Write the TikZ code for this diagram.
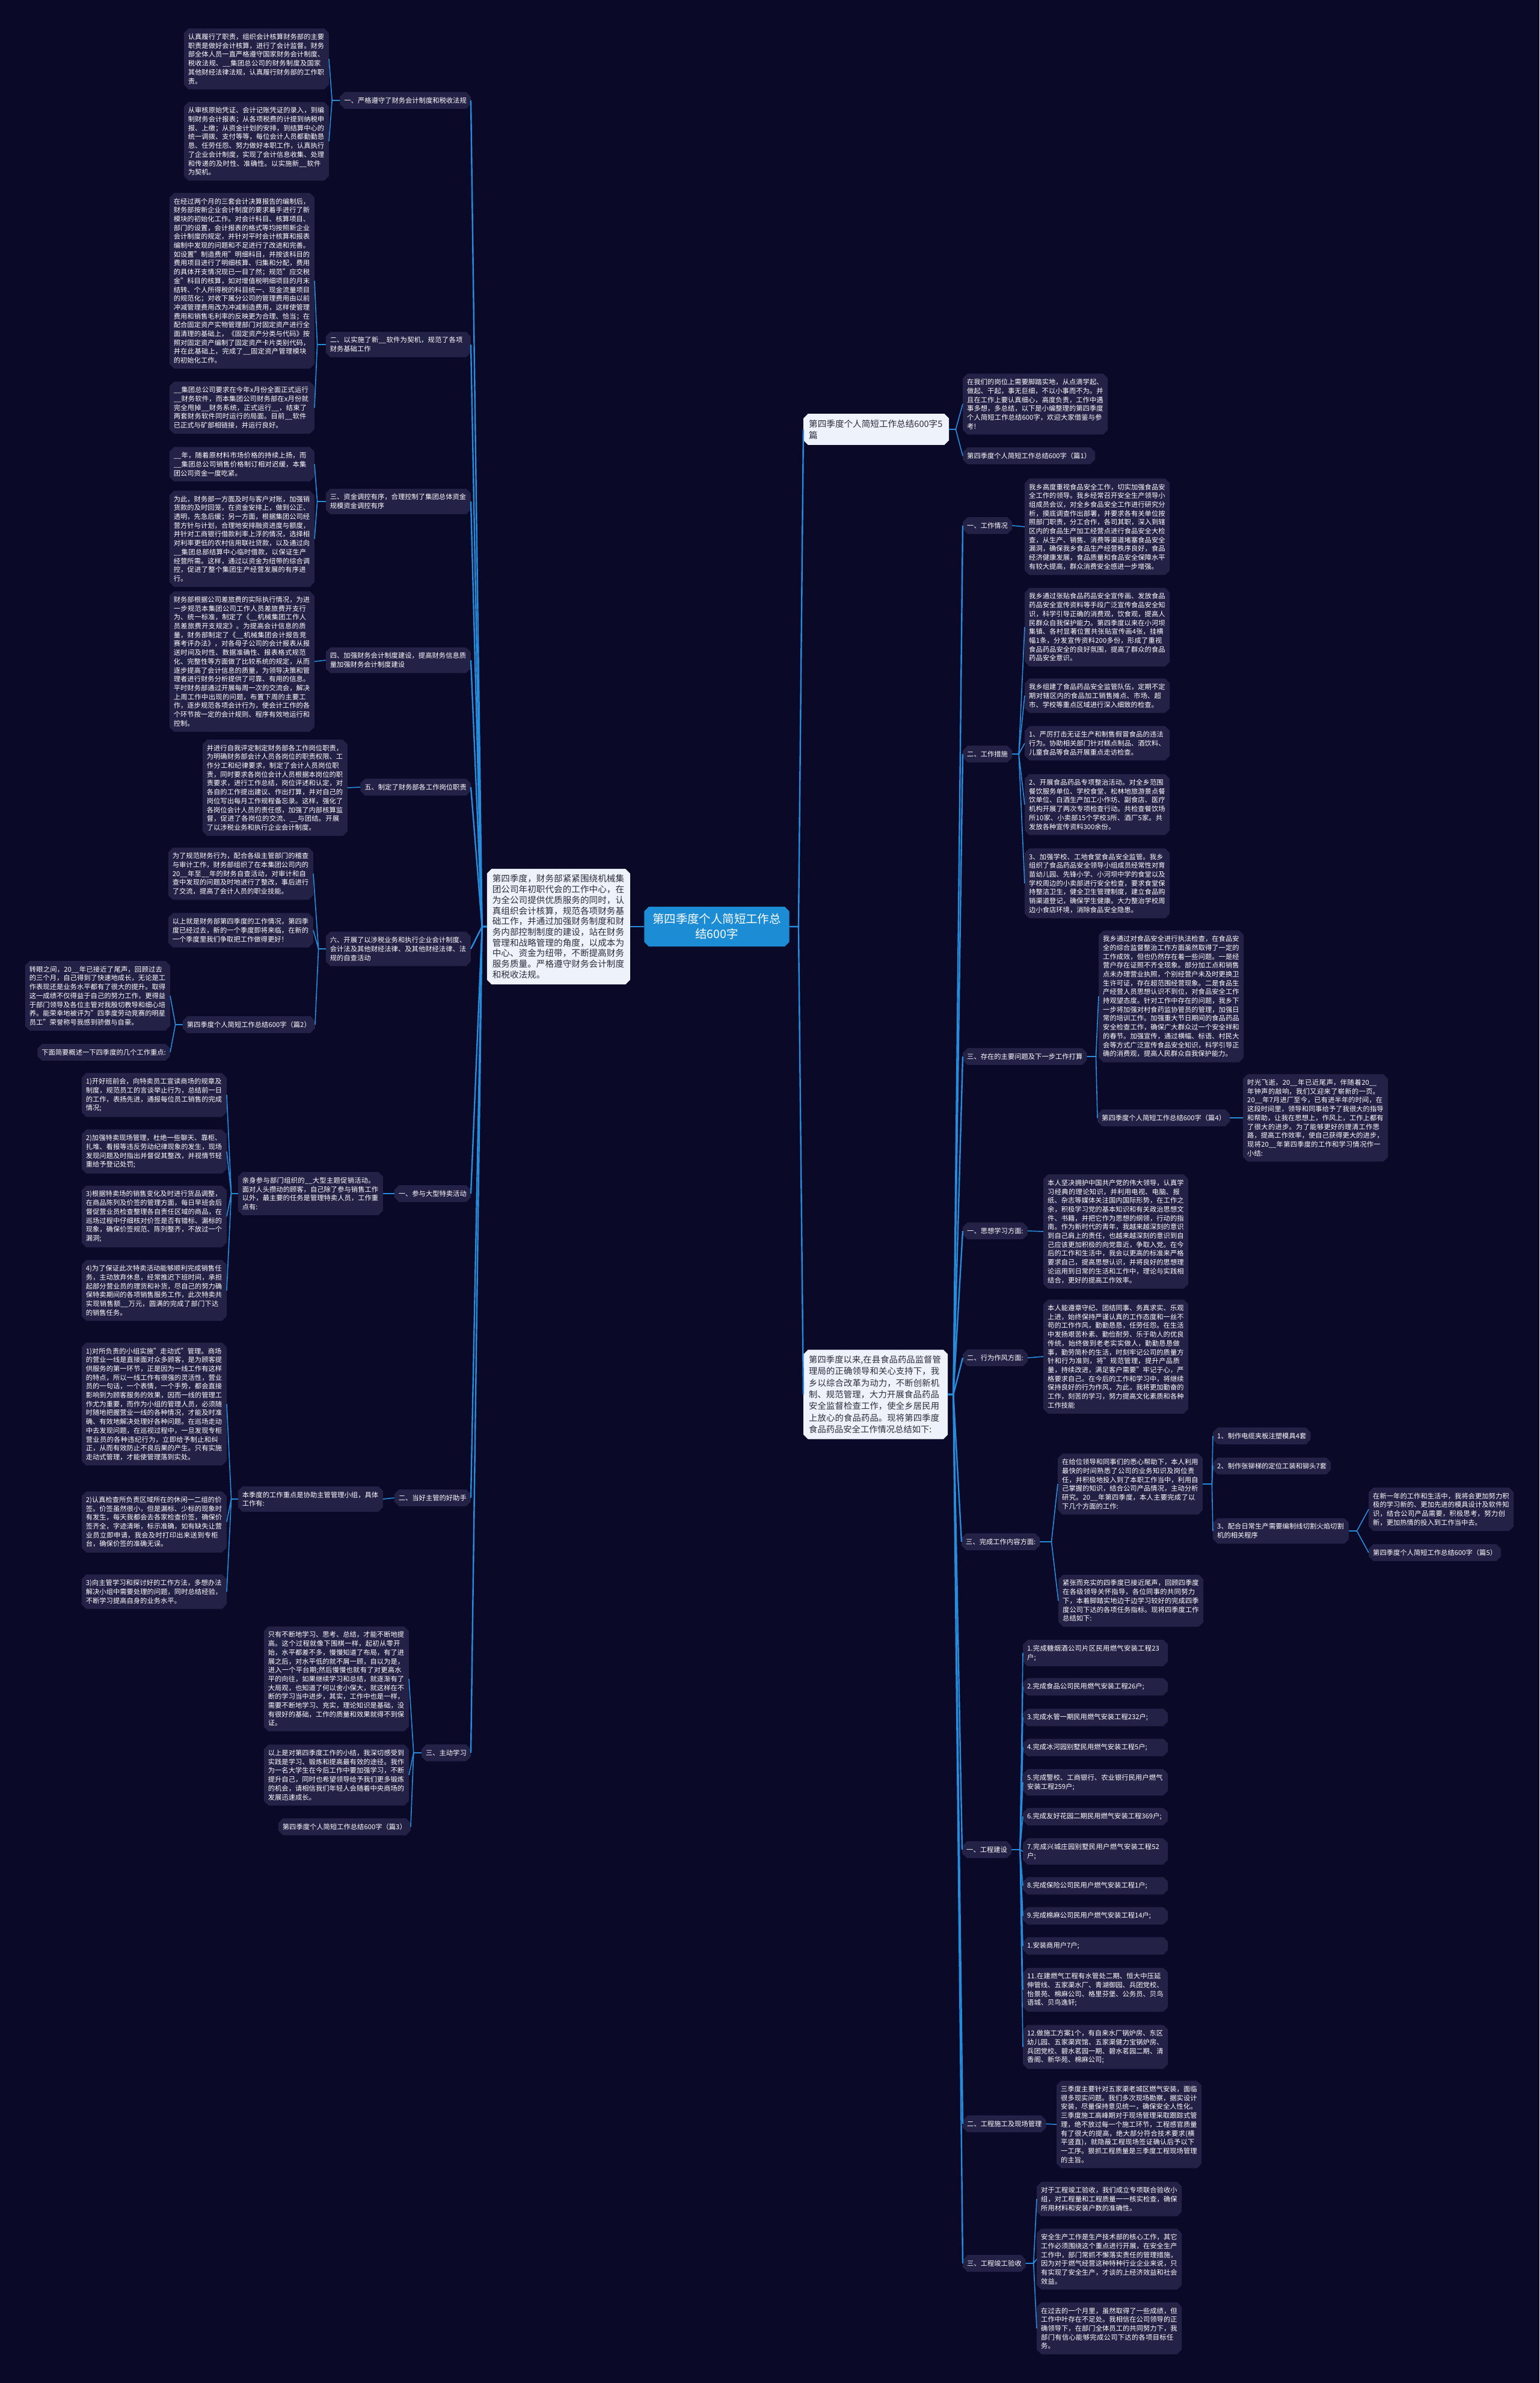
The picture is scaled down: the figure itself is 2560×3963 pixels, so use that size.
\documentclass[tikz,border=0pt]{standalone}
\usepackage{fontspec}
\setmainfont{Noto Sans CJK SC}
\XeTeXlinebreaklocale "zh"
\XeTeXlinebreakskip=0pt plus 1pt
\usetikzlibrary{shapes.misc}

\definecolor{bgcol}{RGB}{11,9,40}
\definecolor{leafcol}{RGB}{35,33,70}
\definecolor{linkcol}{RGB}{38,140,220}
\definecolor{rootcol}{RGB}{28,141,212}
\definecolor{paper}{RGB}{238,242,251}
\definecolor{ink}{RGB}{45,45,60}

\tikzset{
  box/.style={chamfered rectangle, chamfered rectangle xsep=4pt, fill=leafcol, text=white,
    inner xsep=3pt, inner ysep=5pt, font=\fontsize{11.3}{14.7}\selectfont, align=left},
  leaf/.style={box, text width=227pt},
  tag/.style={box},
  card/.style={chamfered rectangle, chamfered rectangle xsep=4pt, fill=paper, text=ink,
    inner xsep=5pt, inner ysep=6pt, align=left},
  link/.style={draw=linkcol, line width=1.6pt},
  trunk/.style={draw=linkcol, line width=2.4pt},
}

\begin{document}
\begin{tikzpicture}[x=1pt,y=-1pt]
  \fill[bgcol] (0,0) rectangle (2560,3963);

  % centre
  \node[card, anchor=east, text width=220pt, font=\fontsize{14.6}{17.7}\selectfont] (main) at (1048,1541)
    {第四季度，财务部紧紧围绕机械集团公司年初职代会的工作中心，在为全公司提供优质服务的同时，认真组织会计核算，规范各项财务基础工作，并通过加强财务制度和财务内部控制制度的建设，站在财务管理和战略管理的角度，以成本为中心、资金为纽带，不断提高财务服务质量。严格遵守财务会计制度和税收法规。};
  \node[card, fill=rootcol, text=white, align=center, inner xsep=10pt, inner ysep=8pt,
    font=\fontsize{19.4}{25}\selectfont] (root) at (1192,1541) {第四季度个人简短工作总\\结600字};

  % left wing
  \node[leaf, anchor=east] (l1) at (547,98) {认真履行了职责，组织会计核算财务部的主要职责是做好会计核算，进行了会计监督。财务部全体人员一直严格遵守国家财务会计制度、税收法规、\_\_集团总公司的财务制度及国家其他财经法律法规，认真履行财务部的工作职责。};
  \node[leaf, anchor=east] (l2) at (547,235) {从审核原始凭证、会计记账凭证的录入，到编制财务会计报表；从各项税费的计提到纳税申报、上缴；从资金计划的安排，到结算中心的统一调拨、支付等等，每位会计人员都勤勤恳恳、任劳任怨、努力做好本职工作，认真执行了企业会计制度，实现了会计信息收集、处理和传递的及时性、准确性。以实施新\_\_软件为契机。};
  \node[tag, anchor=east] (b1) at (783,167) {一、严格遵守了财务会计制度和税收法规};

  \node[leaf, anchor=east] (l3) at (523,467) {在经过两个月的三套会计决算报告的编制后，财务部按新企业会计制度的要求着手进行了新模块的初始化工作。对会计科目、核算项目、部门的设置，会计报表的格式等均按照新企业会计制度的规定，并针对平时会计核算和报表编制中发现的问题和不足进行了改进和完善。如设置"制造费用"明细科目，并按该科目的费用项目进行了明细核算、归集和分配，费用的具体开支情况现已一目了然；规范"应交税金"科目的核算，如对增值税明细项目的月末结转、个人所得税的科目统一、现金流量项目的规范化；对收下属分公司的管理费用由以前冲减管理费用改为冲减制造费用，这样使管理费用和销售毛利率的反映更为合理、恰当；在配合固定资产实物管理部门对固定资产进行全面清理的基础上，《固定资产分类与代码》按照对固定资产编制了固定资产卡片类别代码，并在此基础上，完成了\_\_固定资产管理模块的初始化工作。};
  \node[leaf, anchor=east] (l4) at (523,678) {\_\_集团总公司要求在今年x月份全面正式运行\_\_财务软件，而本集团公司财务部在x月份就完全甩掉\_\_财务系统，正式运行\_\_，结束了两套财务软件同时运行的局面。目前\_\_软件已正式与矿部相链接，并运行良好。};
  \node[leaf, anchor=east] (b2) at (783,573) {二、以实施了新\_\_软件为契机，规范了各项财务基础工作};

  \node[leaf, anchor=east] (l5) at (523,772) {\_\_年，随着原材料市场价格的持续上扬，而\_\_集团总公司销售价格制订相对迟缓，本集团公司资金一度吃紧。};
  \node[leaf, anchor=east] (l6) at (523,896) {为此，财务部一方面及时与客户对账，加强销货款的及时回笼，在资金安排上，做到公正、透明，先急后缓；另一方面，根据集团公司经营方针与计划，合理地安排融资进度与额度，并针对工商银行借款利率上浮的情况，选择相对利率更低的农村信用联社贷款，以及通过向\_\_集团总部结算中心临时借款，以保证生产经营所需。这样，通过以资金为纽带的综合调控，促进了整个集团生产经营发展的有序进行。};
  \node[leaf, anchor=east] (b3) at (783,834) {三、资金调控有序，合理控制了集团总体资金规模资金调控有序};

  \node[leaf, anchor=east] (l7) at (523,1100) {财务部根据公司差旅费的实际执行情况，为进一步规范本集团公司工作人员差旅费开支行为、统一标准，制定了《\_\_机械集团工作人员差旅费开支规定》。为提高会计信息的质量，财务部制定了《\_\_机械集团会计报告竞赛考评办法》，对各母子公司的会计报表从报送时间及时性、数据准确性、报表格式规范化、完整性等方面做了比较系统的规定，从而逐步提高了会计信息的质量，为领导决策和管理者进行财务分析提供了可靠、有用的信息。平时财务部通过开展每周一次的交流会，解决上周工作中出现的问题，布置下周的主要工作，逐步规范各项会计行为，使会计工作的各个环节按一定的会计规则、程序有效地运行和控制。};
  \node[leaf, anchor=east] (b4) at (783,1098) {四、加强财务会计制度建设，提高财务信息质量加强财务会计制度建设};

  \node[leaf, anchor=east] (l8) at (578,1310) {并进行自我评定制定财务部各工作岗位职责，为明确财务部会计人员各岗位的职责权限、工作分工和纪律要求，制定了会计人员岗位职责，同时要求各岗位会计人员根据本岗位的职责要求，进行工作总结，岗位评述和认定，对各自的工作提出建议、作出打算，并对自己的岗位写出每月工作规程备忘录。这样，强化了各岗位会计人员的责任感，加强了内部核算监督，促进了各岗位的交流、\_\_与团结。开展了以涉税业务和执行企业会计制度。};
  \node[tag, anchor=east] (b5) at (783,1309) {五、制定了财务部各工作岗位职责};

  \node[leaf, anchor=east] (l9) at (521,1453) {为了规范财务行为，配合各级主管部门的稽查与审计工作，财务部组织了在本集团公司内的20\_\_年至\_\_年的财务自查活动，对审计和自查中发现的问题及时地进行了整改，事后进行了交流，提高了会计人员的职业技能。};
  \node[leaf, anchor=east] (l10) at (521,1547) {以上就是财务部第四季度的工作情况，第四季度已经过去，新的一个季度即将来临，在新的一个季度里我们争取把工作做得更好！};
  \node[tag, anchor=east] (l12) at (524,1704) {第四季度个人简短工作总结600字（篇2）};
  \node[leaf, anchor=east] (b6) at (783,1578) {六、开展了以涉税业务和执行企业会计制度、会计法及其他财经法律、及其他财经法律、法规的自查活动};
  \node[leaf, anchor=east] (l11) at (283,1656) {转眼之间，20\_\_年已接近了尾声，回顾过去的三个月，自己得到了快速地成长，无论是工作表现还是业务水平都有了很大的提升。取得这一成绩不仅得益于自己的努力工作，更得益于部门领导及各位主管对我殷切教导和细心培养。能荣幸地被评为"四季度劳动竞赛的明星员工"荣誉称号我感到骄傲与自豪。};
  \node[tag, anchor=east] (l13) at (283,1750) {下面简要概述一下四季度的几个工作重点:};

  \node[tag, anchor=east] (b7) at (783,1985) {一、参与大型特卖活动};
  \node[leaf, anchor=east] (n7) at (637,1985) {亲身参与部门组织的\_\_大型主题促销活动。面对人头攒动的顾客，自己除了参与销售工作以外，最主要的任务是管理特卖人员，工作重点有:};
  \node[leaf, anchor=east] (l14) at (377,1821) {1)开好班前会，向特卖员工宣读商场的规章及制度，规范员工的言谈举止行为，总结前一日的工作，表扬先进，通报每位员工销售的完成情况;};
  \node[leaf, anchor=east] (l15) at (377,1915) {2)加强特卖现场管理，杜绝一些聊天、靠柜、扎堆、看报等违反劳动纪律现象的发生，现场发现问题及时指出并督促其整改，并视情节轻重给予登记处罚;};
  \node[leaf, anchor=east] (l16) at (377,2023) {3)根据特卖场的销售变化及时进行货品调整，在商品陈列及价签的管理方面，每日早班会后督促营业员检查整理各自责任区域的商品，在巡场过程中仔细核对价签是否有错标、漏标的现象，确保价签规范、陈列整齐，不放过一个漏洞;};
  \node[leaf, anchor=east] (l17) at (377,2146) {4)为了保证此次特卖活动能够顺利完成销售任务，主动放弃休息，经常推迟下班时间，承担起部分营业员的理货和补货，尽自己的努力确保特卖期间的各项销售服务工作，此次特卖共实现销售额\_\_万元，圆满的完成了部门下达的销售任务。};

  \node[tag, anchor=east] (b8) at (783,2491) {二、当好主管的好助手};
  \node[leaf, anchor=east] (n8) at (637,2493) {本季度的工作重点是协助主管管理小组，具体工作有:};
  \node[leaf, anchor=east] (l18) at (377,2335) {1)对所负责的小组实施"走动式"管理。商场的营业一线是直接面对众多顾客，是为顾客提供服务的第一环节，正是因为一线工作有这样的特点，所以一线工作有很强的灵活性，营业员的一句话，一个表情，一个手势，都会直接影响到为顾客服务的效果，因而一线的管理工作尤为重要，而作为小组的管理人员，必须随时随地把握营业一线的各种情况，才能及时准确、有效地解决处理好各种问题。在巡场走动中去发现问题，在巡视过程中，一旦发现专柜营业员的各种违纪行为，立即给予制止和纠正，从而有效防止不良后果的产生。只有实施走动式管理，才能使管理落到实处。};
  \node[leaf, anchor=east] (l19) at (377,2531) {2)认真检查所负责区域所在的休闲一二组的价签。价签虽然很小，但是漏标、少标的现象时有发生，每天我都会去各家检查价签，确保价签齐全，字迹清晰，标示准确，如有缺失让营业员立即申请，我会及时打印出来送到专柜台，确保价签的准确无误。};
  \node[leaf, anchor=east] (l20) at (377,2647) {3)向主管学习和探讨好的工作方法，多想办法解决小组中需要处理的问题，同时总结经验，不断学习提高自身的业务水平。};

  \node[tag, anchor=east] (b9) at (783,2915) {三、主动学习};
  \node[leaf, anchor=east] (l21) at (680,2792) {只有不断地学习、思考、总结，才能不断地提高。这个过程就像下围棋一样，起初从零开始，水平都差不多，慢慢知道了布局，有了进展之后，对水平低的就不屑一顾，自以为是，进入一个平台期;然后慢慢也就有了对更高水平的向往，如果继续学习和总结，就逐渐有了大局观，也知道了何以舍小保大，就这样在不断的学习当中进步，其实，工作中也是一样，需要不断地学习、充实，理论知识是基础，没有很好的基础，工作的质量和效果就得不到保证。};
  \node[leaf, anchor=east] (l22) at (680,2952) {以上是对第四季度工作的小结，我深切感受到实践是学习、锻炼和提高最有效的途径。我作为一名大学生在今后工作中要加强学习，不断提升自己，同时也希望领导给予我们更多锻炼的机会，请相信我们年轻人会随着中央商场的发展迅速成长。};
  \node[tag, anchor=east] (l23) at (683,3038) {第四季度个人简短工作总结600字（篇3）};

  % right wing
  \node[card, anchor=west, text width=224pt, font=\fontsize{14.6}{19}\selectfont] (r1) at (1336,714) {第四季度个人简短工作总结600字5\\篇};
  \node[leaf, anchor=west] (r1a) at (1601,672) {在我们的岗位上需要脚踏实地，从点滴学起、做起、干起，事无巨细，不以小事而不为。并且在工作上要认真细心，高度负责，工作中遇事多想，多总结，以下是小编整理的第四季度个人简短工作总结600字，欢迎大家借鉴与参考!};
  \node[tag, anchor=west] (r1b) at (1601,758) {第四季度个人简短工作总结600字（篇1）};

  \node[card, anchor=west, text width=222pt, font=\fontsize{14.3}{19.4}\selectfont] (r2) at (1336,2319) {第四季度以来,在县食品药品监督管理局的正确领导和关心支持下，我乡以综合改革为动力，不断创新机制、规范管理，大力开展食品药品安全监督检查工作，使全乡居民用上放心的食品药品。现将第四季度食品药品安全工作情况总结如下:};

  \node[tag, anchor=west] (rb1) at (1601,874) {一、工作情况};
  \node[leaf, anchor=west] (rb1a) at (1704,876) {我乡高度重视食品安全工作，切实加强食品安全工作的领导。我乡经常召开安全生产领导小组成员会议，对全乡食品安全工作进行研究分析，摸底调查作出部署，并要求各有关单位按照部门职责，分工合作，各司其职，深入到辖区内的食品生产加工经营点进行食品安全大检查，从生产、销售、消费等渠道堵塞食品安全漏洞，确保我乡食品生产经营秩序良好，食品经济健康发展，食品质量和食品安全保障水平有较大提高，群众消费安全感进一步增强。};

  \node[tag, anchor=west] (rb2) at (1601,1254) {二、工作措施};
  \node[leaf, anchor=west] (rb2a) at (1704,1043) {我乡通过张贴食品药品安全宣传画、发放食品药品安全宣传资料等手段广泛宣传食品安全知识，科学引导正确的消费观，饮食观，提高人民群众自我保护能力。第四季度以来在小河坝集镇、各村显著位置共张贴宣传画4张，挂横幅1条，分发宣传资料200多份，形成了重视食品药品安全的良好氛围，提高了群众的食品药品安全意识。};
  \node[leaf, anchor=west] (rb2b) at (1704,1157) {我乡组建了食品药品安全监管队伍，定期不定期对辖区内的食品加工销售摊点、市场、超市、学校等重点区域进行深入细致的检查。};
  \node[leaf, anchor=west] (rb2c) at (1704,1236) {1、严厉打击无证生产和制售假冒食品的违法行为。协助相关部门针对糕点制品、酒饮料、儿童食品等食品开展重点走访检查。};
  \node[leaf, anchor=west] (rb2d) at (1704,1338) {2、开展食品药品专项整治活动。对全乡范围餐饮服务单位、学校食堂、松林地旅游景点餐饮单位、白酒生产加工小作坊、副食店、医疗机构开展了两次专项检查行动。共检查餐饮场所10家、小卖部15个学校3所、酒厂5家。共发放各种宣传资料300余份。};
  \node[leaf, anchor=west] (rb2e) at (1704,1469) {3、加强学校、工地食堂食品安全监管。我乡组织了食品药品安全领导小组成员经常性对育苗幼儿园、先锋小学、小河坝中学的食堂以及学校周边的小卖部进行安全检查，要求食堂保持整洁卫生，健全卫生管理制度，建立食品购销渠道登记，确保学生健康。大力整治学校周边小食店环境，消除食品安全隐患。};

  \node[tag, anchor=west] (rb3) at (1601,1757) {三、存在的主要问题及下一步工作打算};
  \node[leaf, anchor=west] (rb3a) at (1827,1657) {我乡通过对食品安全进行执法检查，在食品安全的综合监督整治工作方面虽然取得了一定的工作成效，但也仍然存在着一些问题。一是经营户存在证照不齐全现象。部分加工点和销售点未办理营业执照，个别经营户未及时更换卫生许可证，存在超范围经营现象。二是食品生产经营人员思想认识不到位，对食品安全工作持观望态度。针对工作中存在的问题，我乡下一步将加强对村食药监协管员的管理，加强日常的培训工作。加强重大节日期间的食品药品安全检查工作，确保广大群众过一个安全祥和的春节。加强宣传，通过横幅、标语、村民大会等方式广泛宣传食品安全知识，科学引导正确的消费观，提高人民群众自我保护能力。};
  \node[tag, anchor=west] (rb3b) at (1825,1859) {第四季度个人简短工作总结600字（篇4）};
  \node[leaf, anchor=west] (rb3c) at (2067,1859) {时光飞逝，20\_\_年已近尾声，伴随着20\_\_年钟声的敲响，我们又迎来了崭新的一页。20\_\_年7月进厂至今，已有进半年的时间，在这段时间里，领导和同事给予了我很大的指导和帮助，让我在思想上，作风上，工作上都有了很大的进步。为了能够更好的理清工作思路，提高工作效率，使自己获得更大的进步，现将20\_\_年第四季度的工作和学习情况作一小结:};

  \node[tag, anchor=west] (rb4) at (1601,2047) {一、思想学习方面:};
  \node[leaf, anchor=west] (rb4a) at (1735,2048) {本人坚决拥护中国共产党的伟大领导，认真学习经典的理论知识，并利用电视、电脑、报纸、杂志等媒体关注国内国际形势，在工作之余，积极学习党的基本知识和有关政治思想文件、书籍，并把它作为思想的纲领，行动的指南。作为新时代的青年，我越来越深刻的意识到自己肩上的责任，也越来越深刻的意识到自己应该更加积极的向党靠近，争取入党。在今后的工作和生活中，我会以更高的标准来严格要求自己，提高思想认识，并将良好的思想理论运用到日常的生活和工作中，理论与实践相结合，更好的提高工作效率。};

  \node[tag, anchor=west] (rb5) at (1601,2258) {二、行为作风方面:};
  \node[leaf, anchor=west] (rb5a) at (1735,2256) {本人能遵章守纪、团结同事、务真求实、乐观上进，始终保持严谨认真的工作态度和一丝不苟的工作作风，勤勤恳恳，任劳任怨。在生活中发扬艰苦朴素、勤俭耐劳、乐于助人的优良传统，始终做到老老实实做人，勤勤恳恳做事，勤劳简朴的生活，时刻牢记公司的质量方针和行为准则，将"规范管理，提升产品质量，持续改进，满足客户需要"牢记于心，严格要求自己。在今后的工作和学习中，将继续保持良好的行为作风，为此，我将更加勤奋的工作，刻苦的学习，努力提高文化素质和各种工作技能};

  \node[tag, anchor=west] (rb6) at (1599,2564) {三、完成工作内容方面:};
  \node[leaf, anchor=west] (rb6a) at (1759,2468) {在给位领导和同事们的悉心帮助下，本人利用最快的时间熟悉了公司的业务知识及岗位责任，并积极地投入到了本职工作当中，利用自己掌握的知识，结合公司产品情况，主动分析研究。20\_\_年第四季度，本人主要完成了以下几个方面的工作:};
  \node[leaf, anchor=west] (rb6b) at (1760,2662) {紧张而充实的四季度已接近尾声，回顾四季度在各级领导关怀指导，各位同事的共同努力下，本着脚踏实地边干边学习较好的完成四季度公司下达的各项任务指标。现将四季度工作总结如下:};
  \node[tag, anchor=west] (rb6a1) at (2017,2388) {1、制作电缆夹板注塑模具4套};
  \node[tag, anchor=west] (rb6a2) at (2017,2438) {2、制作张铆梯的定位工装和铆头7套};
  \node[leaf, anchor=west, text width=212pt] (rb6a3) at (2017,2546) {3、配合日常生产需要编制线切割火焰切割机的相关程序};
  \node[leaf, anchor=west] (rb6a3a) at (2276,2510) {在新一年的工作和生活中，我将会更加努力积极的学习新的、更加先进的模具设计及软件知识，结合公司产品需要，积极思考，努力创新，更加热情的投入到工作当中去。};
  \node[tag, anchor=west] (rb6a3b) at (2276,2582) {第四季度个人简短工作总结600字（篇5）};

  \node[tag, anchor=west] (rb7) at (1600,3076) {一、工程建设};
  \node[leaf, anchor=west] (c1) at (1701,2749) {1.完成糖烟酒公司片区民用燃气安装工程23户;};
  \node[leaf, anchor=west] (c2) at (1701,2805) {2.完成食品公司民用燃气安装工程26户;};
  \node[leaf, anchor=west] (c3) at (1701,2856) {3.完成水管一期民用燃气安装工程232户;};
  \node[leaf, anchor=west] (c4) at (1701,2906) {4.完成冰河园别墅民用燃气安装工程5户;};
  \node[leaf, anchor=west] (c5) at (1701,2964) {5.完成警校、工商银行、农业银行民用户燃气安装工程259户;};
  \node[leaf, anchor=west] (c6) at (1701,3021) {6.完成友好花园二期民用燃气安装工程369户;};
  \node[leaf, anchor=west] (c7) at (1701,3079) {7.完成兴城庄园别墅民用户燃气安装工程52户;};
  \node[leaf, anchor=west] (c8) at (1701,3136) {8.完成保险公司民用户燃气安装工程1户;};
  \node[leaf, anchor=west] (c9) at (1701,3186) {9.完成棉麻公司民用户燃气安装工程14户;};
  \node[leaf, anchor=west] (c10) at (1701,3236) {1.安装商用户7户;};
  \node[leaf, anchor=west] (c11) at (1701,3309) {11.在建燃气工程有水管处二期、恒大中压延伸管线、五家渠水厂、青湖御园、兵团党校、怡景苑、棉麻公司、格里芬堡、公务员、贝鸟语城、贝鸟逸轩;};
  \node[leaf, anchor=west] (c12) at (1701,3404) {12.做施工方案1个，有自来水厂锅炉房、东区幼儿园、五家渠宾馆、五家渠健力宝锅炉房、兵团党校、碧水茗园一期、碧水茗园二期、清香阁、新华苑、棉麻公司;};

  \node[tag, anchor=west] (rb8) at (1601,3532) {二、工程施工及现场管理};
  \node[leaf, anchor=west] (rb8a) at (1757,3533) {三季度主要针对五家渠老城区燃气安装，面临很多现实问题。我们多次现场勘察，据实设计安装，尽量保持意见统一，确保安全人性化。三季度施工高峰期对于现场管理采取跟踪式管理，绝不放过每一个施工环节，工程感官质量有了很大的提高，绝大部分符合技术要求(横平竖直)，就隐蔽工程现场签证确认后予以下一工序。狠抓工程质量是三季度工程现场管理的主旨。};

  \node[tag, anchor=west] (rb9) at (1601,3764) {三、工程竣工验收};
  \node[leaf, anchor=west] (rb9a) at (1724,3657) {对于工程竣工验收，我们成立专项联合验收小组，对工程量和工程质量一一核实检查，确保所用材料和安装户数的准确性。};
  \node[leaf, anchor=west] (rb9b) at (1724,3757) {安全生产工作是生产技术部的核心工作，其它工作必须围绕这个重点进行开展，在安全生产工作中，部门常抓不懈落实责任的管理措施，因为对于燃气经营这种特种行业企业来说，只有实现了安全生产，才谈的上经济效益和社会效益。};
  \node[leaf, anchor=west] (rb9c) at (1724,3872) {在过去的一个月里，虽然取得了一些成绩，但工作中叶存在不足处。我相信在公司领导的正确领导下，在部门全体员工的共同努力下，我部门有信心能够完成公司下达的各项目标任务。};

  % connectors, left
  \foreach \b in {b1,b2,b3,b4,b5,b6,b7,b8,b9}
    \draw[trunk] (main.west) -- ++(-8,0) -- (\b.east);
  \foreach \c in {l1,l2} \draw[link] (b1.west) -- ++(-13,0) -- (\c.east);
  \foreach \c in {l3,l4} \draw[link] (b2.west) -- ++(-14,0) -- (\c.east);
  \foreach \c in {l5,l6} \draw[link] (b3.west) -- ++(-14,0) -- (\c.east);
  \draw[link] (b4.west) -- (l7.east);
  \draw[link] (b5.west) -- (l8.east);
  \foreach \c in {l9,l10,l12} \draw[link] (b6.west) -- ++(-12,0) -- (\c.east);
  \foreach \c in {l11,l13} \draw[link] (l12.west) -- ++(-12,0) -- (\c.east);
  \draw[link] (b7.west) -- (n7.east);
  \foreach \c in {l14,l15,l16,l17} \draw[link] (n7.west) -- ++(-11,0) -- (\c.east);
  \draw[link] (b8.west) -- (n8.east);
  \foreach \c in {l18,l19,l20} \draw[link] (n8.west) -- ++(-11,0) -- (\c.east);
  \foreach \c in {l21,l22,l23} \draw[link] (b9.west) -- ++(-13,0) -- (\c.east);

  % connectors, right
  \draw[trunk] (main.east) -- (root.west);
  \foreach \r in {r1,r2} \draw[trunk] (root.east) -- ++(15,0) -- (\r.west);
  \foreach \c in {r1a,r1b} \draw[link] (r1.east) -- ++(11,0) -- (\c.west);
  \foreach \i in {1,...,9} \draw[trunk] (r2.east) -- ++(9,0) -- (rb\i.west);
  \draw[link] (rb1.east) -- (rb1a.west);
  \foreach \c in {a,b,c,d,e} \draw[link] (rb2.east) -- ++(11,0) -- (rb2\c.west);
  \foreach \c in {a,b} \draw[link] (rb3.east) -- ++(15,0) -- (rb3\c.west);
  \draw[link] (rb3b.east) -- (rb3c.west);
  \draw[link] (rb4.east) -- (rb4a.west);
  \draw[link] (rb5.east) -- (rb5a.west);
  \foreach \c in {a,b} \draw[link] (rb6.east) -- ++(19,0) -- (rb6\c.west);
  \foreach \c in {1,2,3} \draw[link] (rb6a.east) -- ++(15,0) -- (rb6a\c.west);
  \foreach \c in {a,b} \draw[link] (rb6a3.east) -- ++(13,0) -- (rb6a3\c.west);
  \foreach \i in {1,...,12} \draw[link] (rb7.east) -- ++(14,0) -- (c\i.west);
  \draw[link] (rb8.east) -- (rb8a.west);
  \foreach \c in {a,b,c} \draw[link] (rb9.east) -- ++(13,0) -- (rb9\c.west);
\end{tikzpicture}
\end{document}
